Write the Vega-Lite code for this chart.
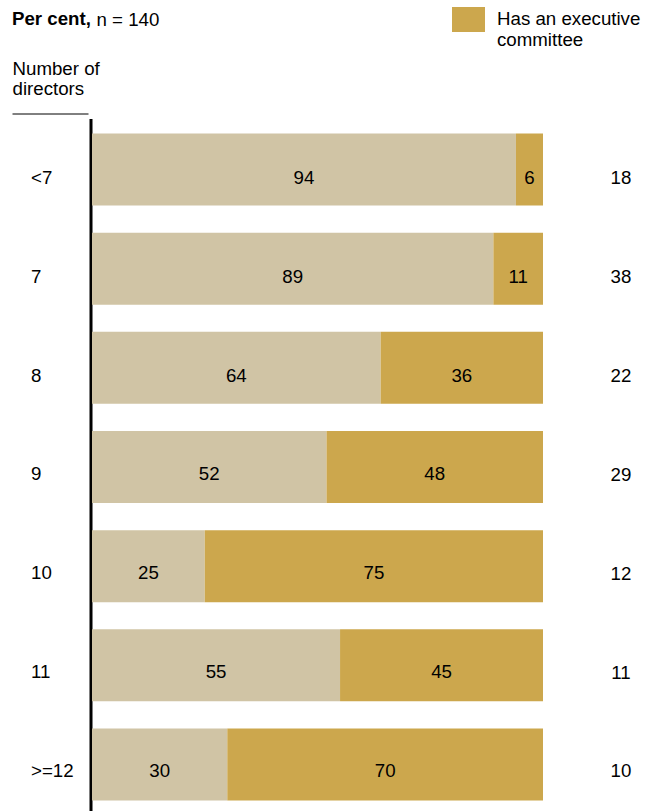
{
  "$schema": "https://vega.github.io/schema/vega-lite/v6.json",
  "padding": {"left": 12, "top": 8.5, "right": 14, "bottom": 0},
  "bounds": "flush",
  "spacing": 4,
  "config": {
    "font": "Liberation Sans",
    "view": {"stroke": null},
    "axis": {"grid": false, "labelColor": "#000", "titleColor": "#000"},
    "legend": {"labelColor": "#000"}
  },
  "data": {
    "values": [
      {"dir": "<7", "n": 18, "group": "No executive committee", "value": 94},
      {"dir": "<7", "n": 18, "group": "Has an executive committee", "value": 6},
      {"dir": "7", "n": 38, "group": "No executive committee", "value": 89},
      {"dir": "7", "n": 38, "group": "Has an executive committee", "value": 11},
      {"dir": "8", "n": 22, "group": "No executive committee", "value": 64},
      {"dir": "8", "n": 22, "group": "Has an executive committee", "value": 36},
      {"dir": "9", "n": 29, "group": "No executive committee", "value": 52},
      {"dir": "9", "n": 29, "group": "Has an executive committee", "value": 48},
      {"dir": "10", "n": 12, "group": "No executive committee", "value": 25},
      {"dir": "10", "n": 12, "group": "Has an executive committee", "value": 75},
      {"dir": "11", "n": 11, "group": "No executive committee", "value": 55},
      {"dir": "11", "n": 11, "group": "Has an executive committee", "value": 45},
      {"dir": ">=12", "n": 10, "group": "No executive committee", "value": 30},
      {"dir": ">=12", "n": 10, "group": "Has an executive committee", "value": 70}
    ]
  },
  "hconcat": [
    {
      "width": 76,
      "height": 692,
      "title": {"text": "Per cent,", "anchor": "start", "frame": "group", "fontSize": 18.7, "fontWeight": "bold", "baseline": "bottom", "offset": 11, "color": "#000"},
      "transform": [{"filter": "datum.group == 'No executive committee'"}],
      "mark": {"type": "text", "align": "left", "baseline": "middle", "fontSize": 18.7, "dx": 19, "color": "#000"},
      "encoding": {
        "y": {"field": "dir", "type": "nominal", "sort": ["<7", "7", "8", "9", "10", "11", ">=12"],
              "scale": {"paddingInner": 0.274, "paddingOuter": 0.126, "align": 0.6}, "axis": null},
        "x": {"datum": 0, "type": "quantitative", "scale": {"domain": [0, 1]},
              "axis": {"orient": "top", "offset": 5, "domain": true, "domainColor": "#000", "domainWidth": 1,
                       "ticks": false, "labels": false, "title": ["Number of", "directors"],
                       "titleAnchor": "start", "titleAlign": "left", "titleFontSize": 18.7, "titleFontWeight": "normal",
                       "titlePadding": 15, "titleLineHeight": 20.5}},
        "text": {"field": "dir"}
      }
    },
    {
      "width": 451,
      "height": 692,
      "transform": [
        {"stack": "value", "groupby": ["dir"], "sort": [{"field": "group", "order": "descending"}], "as": ["x0", "x1"]},
        {"calculate": "(datum.x0 + datum.x1) / 2", "as": "mid"}
      ],
      "layer": [
        {
          "mark": {"type": "bar"},
          "encoding": {
            "y": {"field": "dir", "type": "nominal", "sort": ["<7", "7", "8", "9", "10", "11", ">=12"],
                  "scale": {"paddingInner": 0.274, "paddingOuter": 0.126, "align": 0.6},
                  "axis": {"orient": "left", "offset": 1.5, "domain": true, "domainColor": "#000", "domainWidth": 3,
                           "ticks": false, "labels": false, "title": null}},
            "x": {"field": "x0", "type": "quantitative", "scale": {"domain": [0, 100], "nice": false},
                  "axis": {"orient": "top", "domain": false, "ticks": false, "labels": false, "title": "n = 140",
                           "titleX": 4, "titleY": -92.7, "titleAlign": "left", "titleBaseline": "alphabetic",
                           "titleFontSize": 18.7, "titleFontWeight": "normal"}},
            "x2": {"field": "x1"},
            "color": {"field": "group", "type": "nominal",
                      "scale": {"domain": ["No executive committee", "Has an executive committee"], "range": ["#D0C4A5", "#CCA74D"]},
                      "legend": {"values": ["Has an executive committee"], "orient": "none", "legendX": 440, "legendY": -109.8,
                                 "title": null, "padding": 0, "symbolType": "M-1,-1.103H1V0.413H-1Z", "symbolSize": 1089,
                                 "symbolStrokeWidth": 0, "symbolOpacity": 1,
                                 "labelFontSize": 18.7, "labelOffset": 12, "labelLimit": 300, "labelBaseline": "alphabetic",
                                 "labelExpr": "['Has an executive', 'committee']", "labelLineHeight": 22.3}}
          }
        },
        {
          "mark": {"type": "text", "fontSize": 18.7, "color": "#000", "baseline": "middle"},
          "encoding": {
            "y": {"field": "n", "type": "nominal", "sort": [18, 38, 22, 29, 12, 11, 10],
                  "scale": {"paddingInner": 0.274, "paddingOuter": 0.126, "align": 0.6},
                  "axis": {"orient": "right", "domain": false, "ticks": false, "labelPadding": 77.5, "labelAlign": "center",
                           "labelFontSize": 18.7, "labelBaseline": "middle", "title": null}},
            "x": {"field": "mid", "type": "quantitative",
                  "axis": {"orient": "top", "domain": false, "ticks": false, "labels": false, "title": "n = 140",
                           "titleX": 4, "titleY": -92.7, "titleAlign": "left", "titleBaseline": "alphabetic",
                           "titleFontSize": 18.7, "titleFontWeight": "normal"}},
            "text": {"field": "value"}
          }
        }
      ],
      "resolve": {"scale": {"y": "independent"}}
    }
  ]
}
